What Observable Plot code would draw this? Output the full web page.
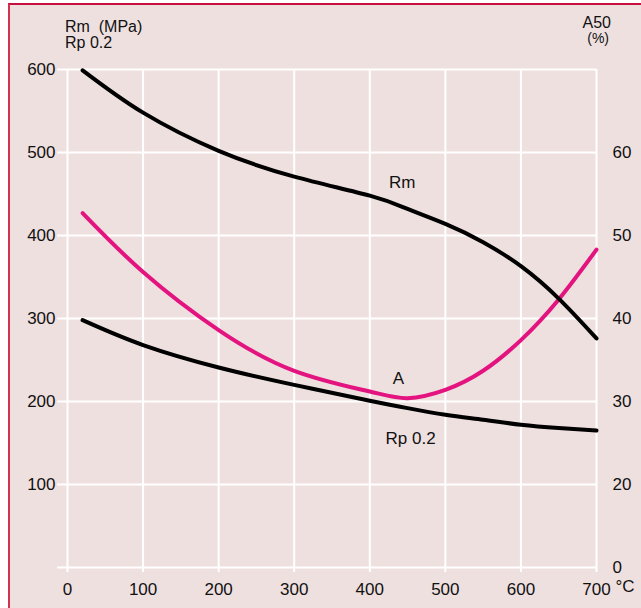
<!DOCTYPE html>
<html>
<head>
<meta charset="utf-8">
<script src="https://cdn.jsdelivr.net/npm/d3@7"></script>
<script src="https://cdn.jsdelivr.net/npm/@observablehq/plot@0.6"></script>
<style>
  html, body { margin: 0; padding: 0; background: #ffffff; }
  #wrap { position: relative; width: 641px; height: 608px; overflow: hidden; background: #ffffff; }
  #panel { position: absolute; left: 8px; top: 3px; right: 0; bottom: 0; background: #eee0df;
           border-left: 2px solid #d2334f; border-top: 2px solid #c8103e; }
  #chart { position: absolute; left: 0; top: 0; }
  svg text { fill: #111; }
</style>
</head>
<body>
<div id="wrap"><div id="panel"></div><div id="chart"></div></div>
<script>
// Temperatures (°C)
const temps = [20, 100, 200, 300, 400, 450, 500, 550, 600, 650, 700];
// Tensile strength Rm (MPa)
const rm = [599, 548, 502, 471, 448, 432, 414, 392, 363, 324, 276];
// Yield strength Rp 0.2 (MPa)
const rp = [298, 268, 241, 220, 201, 192, 184, 178, 172, 168, 165];
// Elongation A50 (%)
const elong = [52.7, 45.6, 38.6, 33.7, 31.2, 30.4, 31.4, 33.7, 37.4, 42.3, 48.3];

// Tick labels
const xTicks = [0, 100, 200, 300, 400, 500, 600, 700];
const leftTicks = [100, 200, 300, 400, 500, 600];
const gridY = [0, 100, 200, 300, 400, 500, 600];
// Right (A50 %) axis: broken axis, 0 at the bottom then 20..60
const rightTickPos = [0, 100, 200, 300, 400, 500];
const rightTickLabels = ["0", "20", "30", "40", "50", "60"];

// Map A50 (%) onto the MPa scale, following the right axis (20% ↔ 100 MPa, 10% per 100 MPa)
const aToMPa = a => (a - 10) * 10;

const rmData = temps.map((t, i) => ({t, v: rm[i]}));
const rpData = temps.map((t, i) => ({t, v: rp[i]}));
const aData = temps.map((t, i) => ({t, v: aToMPa(elong[i])}));

const font = "'Liberation Sans', Arial, Helvetica, sans-serif";

const chart = Plot.plot({
  width: 641,
  height: 608,
  marginLeft: 67,
  marginRight: 45,
  marginTop: 69,
  marginBottom: 41,
  style: {background: "transparent", fontFamily: font, fontSize: "17px", color: "#111", overflow: "visible"},
  x: {domain: [0, 700]},
  y: {domain: [0, 600]},
  marks: [
    Plot.ruleY(gridY, {x1: -13, x2: 700, stroke: "#ffffff", strokeWidth: 2}),
    Plot.ruleX(xTicks, {y1: -6, y2: 600, stroke: "#ffffff", strokeWidth: 2}),
    Plot.axisX({ticks: xTicks, tickSize: 0, tickPadding: 15, label: null, fontSize: 17}),
    Plot.text(["°C"], {x: 700, frameAnchor: "bottom", dy: 24, dx: 19, textAnchor: "start", fontSize: 17, fill: "#111"}),
    Plot.axisY({anchor: "left", ticks: leftTicks, tickSize: 0, tickPadding: 12, label: null, fontSize: 17}),
    Plot.axisY({anchor: "right", ticks: rightTickPos, tickSize: 0, tickPadding: 16, label: null, fontSize: 17,
      tickFormat: d => rightTickLabels[rightTickPos.indexOf(d)]}),
    Plot.line(aData, {x: "t", y: "v", curve: "natural", stroke: "#e3137f", strokeWidth: 4, strokeLinecap: "round"}),
    Plot.line(rmData, {x: "t", y: "v", curve: "natural", stroke: "#000000", strokeWidth: 4, strokeLinecap: "round"}),
    Plot.line(rpData, {x: "t", y: "v", curve: "natural", stroke: "#000000", strokeWidth: 4, strokeLinecap: "round"}),
    Plot.text(["Rm"], {x: 443, y: 464, fontSize: 17, fill: "#111"}),
    Plot.text(["A"], {x: 438, y: 228, fontSize: 17, fill: "#111"}),
    Plot.text(["Rp 0.2"], {x: 454, y: 155, fontSize: 17, fill: "#111"})
  ]
});

const svg = d3.select(chart);
const titles = [
  {text: "Rm\u00A0\u00A0(MPa)", x: 65, y: 32, anchor: "start", size: 16},
  {text: "Rp 0.2", x: 65, y: 48, anchor: "start", size: 16},
  {text: "A50", x: 611, y: 28, anchor: "end", size: 16},
  {text: "(%)", x: 609, y: 43, anchor: "end", size: 14}
];
svg.append("g").selectAll("text").data(titles).join("text")
  .attr("x", d => d.x).attr("y", d => d.y)
  .attr("text-anchor", d => d.anchor)
  .attr("font-family", font).attr("font-size", d => d.size).attr("fill", "#111")
  .text(d => d.text);

document.getElementById("chart").appendChild(chart);
</script>
</body>
</html>
